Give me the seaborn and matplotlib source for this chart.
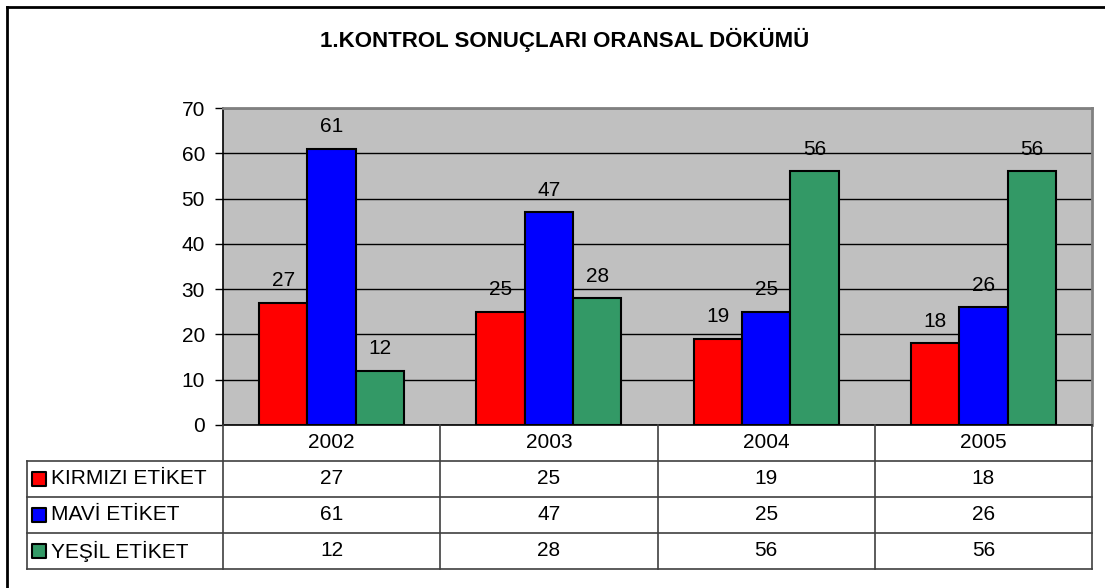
import pandas as pd
import matplotlib.pyplot as plt
from matplotlib.lines import Line2D
import seaborn as sns

# Chart values
years = ["2002", "2003", "2004", "2005"]
series = ["KIRMIZI ETİKET", "MAVİ ETİKET", "YEŞİL ETİKET"]
kirmizi = [27, 25, 19, 18]
mavi = [61, 47, 25, 26]
yesil = [12, 28, 56, 56]
colors = ["#FF0000", "#0000FF", "#339966"]
title = "1.KONTROL SONUÇLARI ORANSAL DÖKÜMÜ"

# Long form table for seaborn
rows = []
for name, vals in zip(series, [kirmizi, mavi, yesil]):
    for y, v in zip(years, vals):
        rows.append({"yil": y, "seri": name, "deger": v})
df = pd.DataFrame(rows)

plt.rcParams["font.family"] = ["Liberation Sans", "DejaVu Sans"]
fs = 15

W, H = 1105, 588
fig = plt.figure(figsize=(W / 100, H / 100), dpi=100)

# Plot area (pixel box 223..1092 x 108..425)
ax = fig.add_axes([223 / W, (H - 425) / H, (1092 - 223) / W, (425 - 108) / H])
ax.set_facecolor("#C0C0C0")
sns.barplot(data=df, x="yil", y="deger", hue="seri", order=years, hue_order=series,
            palette=colors, saturation=1, edgecolor="black", linewidth=1.5,
            width=0.667, legend=False, ax=ax)
ax.set_xlim(-0.5, 3.5)
ax.set_ylim(0, 70)
ax.set_yticks(range(0, 71, 10))
ax.set_xticks([])
ax.set_xlabel("")
ax.set_ylabel("")
ax.set_axisbelow(True)
ax.yaxis.grid(True, color="black", linewidth=1)
ax.tick_params(axis="y", labelsize=fs, length=6, width=1, pad=7, colors="black")
for c in ax.containers:
    ax.bar_label(c, padding=9, fontsize=fs)
for s in ["left", "bottom"]:
    ax.spines[s].set_color("black")
    ax.spines[s].set_linewidth(1.2)
for s in ["top", "right"]:
    ax.spines[s].set_color("#808080")
    ax.spines[s].set_linewidth(2)

# Data table under the chart (pixel box 27..1092 x 425..569)
lw = (223 - 27) / ((1092 - 223) / 4)
tab = fig.add_axes([27 / W, (H - 569) / H, (1092 - 27) / W, (569 - 425) / H])
tab.set_xlim(-0.5 - lw, 3.5)
tab.set_ylim(4, 0)
tab.axis("off")
for r in range(1, 5):
    tab.plot([-0.5 - lw, 3.5], [r, r], color="#404040", lw=1.2, clip_on=False)
for i in range(5):
    tab.plot([i - 0.5, i - 0.5], [0, 4], color="#404040", lw=1.2, clip_on=False)
tab.plot([-0.5 - lw, -0.5 - lw], [1, 4], color="#404040", lw=1.2, clip_on=False)

for i, y in enumerate(years):
    tab.text(i, 0.5, y, ha="center", va="center", fontsize=fs)
for r, (name, vals, col) in enumerate(zip(series, [kirmizi, mavi, yesil], colors), start=1):
    tab.scatter([-0.5 - lw + 0.055], [r + 0.5], marker="s", s=90, color=col,
                edgecolor="black", linewidth=1.5, clip_on=False)
    tab.text(-0.5 - lw + 0.11, r + 0.5, name, ha="left", va="center", fontsize=fs)
    for i, v in enumerate(vals):
        tab.text(i, r + 0.5, str(v), ha="center", va="center", fontsize=fs)

fig.text(565 / W, 1 - 40 / H, title, ha="center", va="center",
         fontsize=16, fontweight="bold")

# Outer chart frame (top and left edges visible)
fig.add_artist(Line2D([7 / W, 1], [1 - 7 / H, 1 - 7 / H], color="black", lw=2,
                      transform=fig.transFigure))
fig.add_artist(Line2D([7 / W, 7 / W], [0, 1 - 7 / H], color="black", lw=2,
                      transform=fig.transFigure))

fig.savefig("out.png", dpi=100)
